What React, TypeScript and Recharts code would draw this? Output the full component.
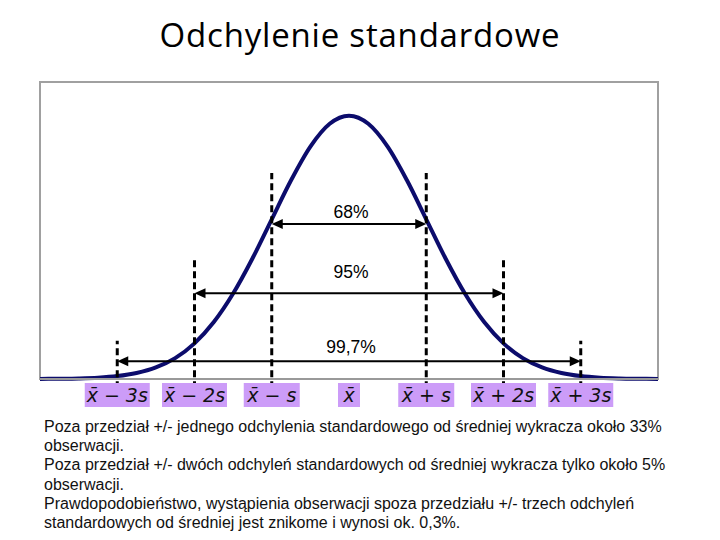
import React from "react";
import { LineChart, Line, XAxis, YAxis, ReferenceLine, ReferenceArea } from "recharts";

// distance from the mean, in standard deviations
const SIGMA_X = [
  -4, -3.75, -3.5, -3.25, -3, -2.75, -2.5, -2.25, -2, -1.75, -1.5, -1.25, -1, -0.75, -0.5, -0.25,
  0, 0.25, 0.5, 0.75, 1, 1.25, 1.5, 1.75, 2, 2.25, 2.5, 2.75, 3, 3.25, 3.5, 3.75, 4,
];
// curve height
const DENSITY = [
  0.0001, 0.0004, 0.0009, 0.002, 0.0044, 0.0091, 0.0175, 0.0317, 0.054, 0.0863, 0.1295, 0.1826,
  0.242, 0.3011, 0.3521, 0.3867, 0.3989, 0.3867, 0.3521, 0.3011, 0.242, 0.1826, 0.1295, 0.0863,
  0.054, 0.0317, 0.0175, 0.0091, 0.0044, 0.002, 0.0009, 0.0004, 0.0001,
];

const BOUND_SIGMAS = [1, 2, 3];
const BOUND_TOPS = [0.312, 0.185, 0.058];
const RANGE_LABELS = ["68%", "95%", "99,7%"];
const ARROW_LEVELS = [0.235, 0.13, 0.027];

const TICK_VALUES = [-3, -2, -1, 0, 1, 2, 3];
const TICK_LABELS = ["x\u0304 \u2212 3s", "x\u0304 \u2212 2s", "x\u0304 \u2212 s", "x\u0304", "x\u0304 + s", "x\u0304 + 2s", "x\u0304 + 3s"];

const NOTE_LINES = [
  "Poza przedział +/- jednego odchylenia standardowego od średniej wykracza około 33%",
  "obserwacji.",
  "Poza przedział +/- dwóch odchyleń standardowych od średniej wykracza tylko około 5%",
  "obserwacji.",
  "Prawdopodobieństwo, wystąpienia obserwacji spoza przedziału +/- trzech odchyleń",
  "standardowych od średniej jest znikome i wynosi ok. 0,3%.",
];

const data = SIGMA_X.map((x, i) => ({ x, y: DENSITY[i] }));

const LABEL_OFFSETS = [12, 21, 14];

const boxWidth = (label: string) => {
  if (label.length <= 2) return 22;
  return label.endsWith(" s") ? 56 : 65;
};

const AxisLabel = (props: any) => {
  const { x, y, payload } = props;
  const idx = TICK_VALUES.indexOf(payload.value);
  const label = TICK_LABELS[idx];
  const w = boxWidth(label);
  return (
    <g>
      <rect x={x - w / 2} y={y + 4} width={w} height={24} fill="#cc9cf8" />
      <text
        x={x}
        y={y + 23}
        textAnchor="middle"
        fontFamily="DejaVu Sans"
        fontStyle="italic"
        fontSize={19}
        fill="#111"
      >
        {label}
      </text>
    </g>
  );
};

const arrowShape = (i: number) => (props: any) => {
  const { x1, x2, y1 } = props;
  const y = y1;
  const mid = (x1 + x2) / 2;
  return (
    <g>
      <line x1={x1 + 8} y1={y} x2={x2 - 8} y2={y} stroke="#000" strokeWidth={2} />
      <polygon points={`${x1},${y} ${x1 + 11},${y - 5} ${x1 + 11},${y + 5}`} fill="#000" />
      <polygon points={`${x2},${y} ${x2 - 11},${y - 5} ${x2 - 11},${y + 5}`} fill="#000" />
      <text
        x={mid + 2}
        y={y - LABEL_OFFSETS[i] + 6}
        textAnchor="middle"
        fontFamily="Liberation Sans"
        fontSize={17.5}
        fill="#000"
      >
        {RANGE_LABELS[i]}
      </text>
    </g>
  );
};

export default function App() {
  return (
    <div
      style={{
        position: "absolute",
        left: 0,
        top: 0,
        width: 720,
        height: 540,
        background: "#fff",
        overflow: "hidden",
      }}
    >
      <div
        style={{
          position: "absolute",
          top: 12,
          left: 0,
          width: 720,
          textAlign: "center",
          fontFamily: "Open Sans",
          fontSize: 33,
          letterSpacing: 0.8,
          color: "#000",
        }}
      >
        Odchylenie standardowe
      </div>

      <div style={{ position: "absolute", left: 0, top: 0 }}>
        <LineChart width={720} height={420} data={data} margin={{ top: 82, right: 62, bottom: 11, left: 40 }}>
          <XAxis
            dataKey="x"
            type="number"
            domain={[-4, 4]}
            ticks={TICK_VALUES}
            height={30}
            tickLine={false}
            tickSize={0}
            tickMargin={0}
            axisLine={{ stroke: "#999", strokeWidth: 2 }}
            tick={<AxisLabel />}
            interval={0}
          />
          <YAxis hide type="number" domain={[0, 0.45]} />
          <ReferenceArea
            x1={-4}
            x2={4}
            y1={0}
            y2={0.45}
            fill="none"
            stroke="#a0a0a0"
            strokeWidth={2}
          />
          <Line
            type="monotone"
            dataKey="y"
            stroke="#0c0c6c"
            strokeWidth={4}
            dot={false}
            isAnimationActive={false}
          />
          {BOUND_SIGMAS.flatMap((s, i) =>
            [-s, s].map((v) => (
              <ReferenceLine
                key={`b${v}`}
                segment={[
                  { x: v, y: -0.014 },
                  { x: v, y: BOUND_TOPS[i] },
                ]}
                stroke="#000"
                strokeWidth={3}
                strokeDasharray="7 4"
                ifOverflow="visible"
              />
            ))
          )}
          {BOUND_SIGMAS.map((s, i) => (
            <ReferenceLine
              key={`a${s}`}
              segment={[
                { x: -s, y: ARROW_LEVELS[i] },
                { x: s, y: ARROW_LEVELS[i] },
              ]}
              ifOverflow="visible"
              shape={arrowShape(i)}
            />
          ))}
        </LineChart>
      </div>

      <div
        style={{
          position: "absolute",
          left: 44,
          top: 417,
          fontFamily: "Liberation Sans",
          fontSize: 16,
          lineHeight: "19.2px",
          color: "#111",
          whiteSpace: "nowrap",
        }}
      >
        {NOTE_LINES.map((l, i) => (
          <div key={i}>{l}</div>
        ))}
      </div>
    </div>
  );
}
